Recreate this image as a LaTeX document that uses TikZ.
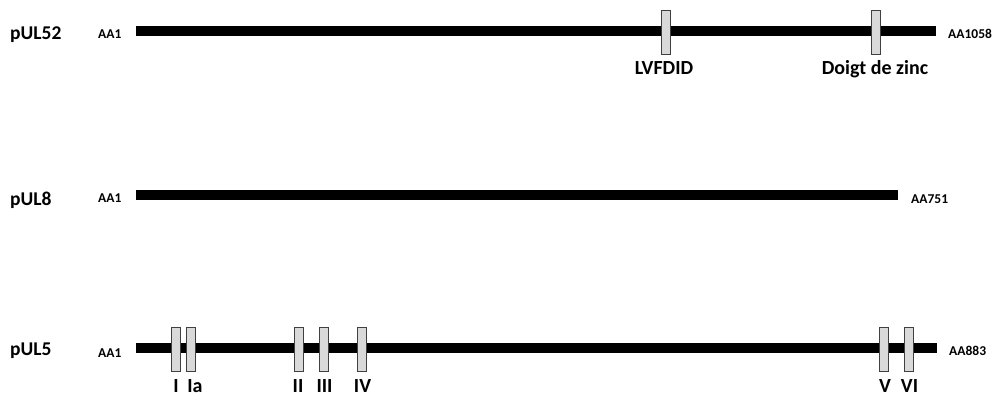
\documentclass[tikz,border=0pt]{standalone}
\usepackage{fontspec}
\setmainfont{Carlito}
\begin{document}
\begin{tikzpicture}[x=1pt,y=-1pt,
  bar/.style={line width=10pt},
  dom/.style={draw=black!75,fill=black!15,line width=1pt,minimum width=9pt,minimum height=44pt,inner sep=0pt},
  pname/.style={font=\bfseries\fontsize{19.5}{20}\selectfont,anchor=base west,inner sep=0pt},
  aa/.style={font=\bfseries\fontsize{13.5}{14}\selectfont,anchor=base west,inner sep=0pt},
  dlab/.style={font=\bfseries\fontsize{20}{21}\selectfont,anchor=base,inner sep=0pt}]
\useasboundingbox (0,0) rectangle (995,397);
% pUL52
\node[pname] (n52) at (10,39) {pUL52};
\node[aa] (a52s) at (98,38) {AA1};
\coordinate (b52s) at (136,31);
\coordinate (b52e) at (936,31);
\draw[bar] (b52s) -- (b52e);
\node[aa] (a52e) at (948,38) {AA1058};
\node[dom] (d1) at (666,32.5) {};
\node[dom] (d2) at (876,32.5) {};
\node[dlab] (l1) at (664,74) {LVFDID};
\node[dlab] (l2) at (875,74) {Doigt de zinc};
% pUL8
\node[pname] (n8) at (10,205) {pUL8};
\node[aa] (a8s) at (98,202) {AA1};
\coordinate (b8s) at (136,195);
\coordinate (b8e) at (898,195);
\draw[bar] (b8s) -- (b8e);
\node[aa] (a8e) at (911,203) {AA751};
% pUL5
\node[pname] (n5) at (10,355) {pUL5};
\node[aa] (a5s) at (98,357) {AA1};
\coordinate (b5s) at (136,348);
\coordinate (b5e) at (937,348);
\draw[bar] (b5s) -- (b5e);
\node[aa] (a5e) at (949,355) {AA883};
\foreach \n/\x/\lx/\t in {m1/176/176/I,m2/191/195/Ia,m3/298.5/298/II,m4/324/324.5/III,m5/362/362.5/IV,m6/884/885/V,m7/909/909.5/VI}{
  \node[dom] (\n) at (\x,349.5) {};
  \node[dlab] (\n l) at (\lx,392.5) {\t};
}
\end{tikzpicture}
\end{document}
